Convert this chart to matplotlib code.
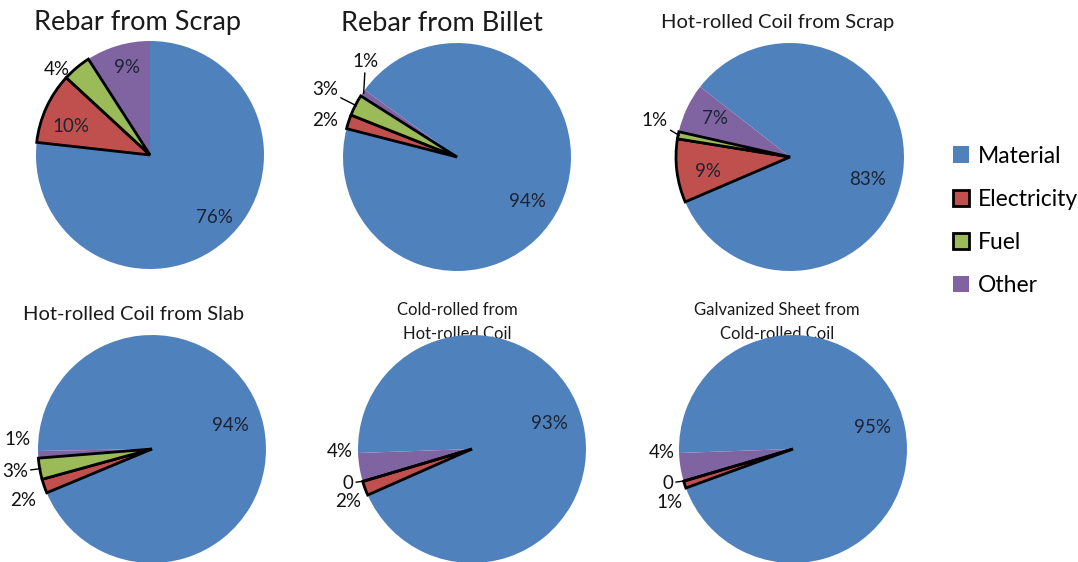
import matplotlib
matplotlib.use('Agg')
import matplotlib.pyplot as plt
import numpy as np

plt.rcParams['font.family'] = ['Lato', 'DejaVu Sans']

# ---------------- data ----------------
categories = ['Material', 'Electricity', 'Fuel', 'Other']
colors = ['#4F81BD', '#C0504D', '#9BBB59', '#8064A2']

titles = ['Rebar from Scrap', 'Rebar from Billet', 'Hot-rolled Coil from Scrap',
          'Hot-rolled Coil from Slab', 'Cold-rolled from\nHot-rolled Coil',
          'Galvanized Sheet from\nCold-rolled Coil']

rebar_scrap = [76, 10, 4, 9]
rebar_billet = [94, 2, 3, 1]
hrc_scrap = [83, 9, 1, 7]
hrc_slab = [94, 2, 3, 1]
cold_rolled = [93, 2, 0, 4]
galvanized = [95, 1, 0, 4]
series = [rebar_scrap, rebar_billet, hrc_scrap, hrc_slab, cold_rolled, galvanized]

# ---------------- layout / style ----------------
W, H, DPI = 1078, 562, 100
R = 114          # pie radius in pixels
L = 1.6          # half-extent of each axes in radius units
centers = [(150, 155), (457, 157), (790, 157), (152, 449), (472, 449), (793, 449)]
start_angles = [90, 144, 142, 181, 182, 182]
title_pos = [(-0.11, 1.16), (-0.13, 1.17), (-0.11, 1.18), (-0.16, 1.18), (-0.13, 1.115), (-0.14, 1.115)]
title_size = [19.5, 19.5, 14.5, 14.5, 12, 12]
# per-label (radial distance, angular nudge in degrees)
label_place = [
    [(0.79, 4), (0.74, 4.6), (1.11, 7.6), (0.79, -1.4)],
    [(0.73, -7), (1.2, 2.6), (1.3, 0), (1.16, -12)],
    [(0.71, -9), (0.73, 3), (1.23, -4), (0.74, -2)],
    [(0.72, 5), (1.22, 2.7), (1.22, -0.5), (1.18, -6.8)],
    [(0.72, 5.5), (1.18, 2.8), (1.13, -1.1), (1.16, -8.3)],
    [(0.72, 4.4), (1.18, 5.3), (1.14, -1.1), (1.15, -7.7)],
]
leaders = [[], [2, 3], [2], [2], [2], [2]]
outlined = [1, 2]   # Electricity, Fuel drawn with black outline

fig = plt.figure(figsize=(W / DPI, H / DPI), dpi=DPI)
fig.patch.set_facecolor('white')

legend_handles = None
for i, vals in enumerate(series):
    cx, cy = centers[i]
    size = 2 * L * R
    ax = fig.add_axes([(cx - L * R) / W, 1 - (cy + L * R) / H, size / W, size / H])
    ax.set_facecolor('none')
    wedges, _ = ax.pie(vals, colors=colors, startangle=start_angles[i], counterclock=False,
                       wedgeprops=dict(linewidth=0), radius=1)
    for k in outlined:
        wedges[k].set_edgecolor('black')
        wedges[k].set_linewidth(2.0)
        wedges[k].set_zorder(2)
    ax.set_xlim(-L, L)
    ax.set_ylim(-L, L)
    ax.set_aspect('equal')
    ax.axis('off')
    if legend_handles is None:
        legend_handles = wedges

    # labels
    for k, w in enumerate(wedges):
        mid = 0.5 * (w.theta1 + w.theta2)
        d, nudge = label_place[i][k]
        a = np.deg2rad(mid + nudge)
        pos = (d * np.cos(a), d * np.sin(a))
        txt = f'{vals[k]}%' if vals[k] else '0'
        inside = d < 1.0
        color = '#1d2433' if inside else '#111111'
        if k in leaders[i]:
            am = np.deg2rad(mid)
            ax.annotate(txt, xy=(0.99 * np.cos(am), 0.99 * np.sin(am)), xytext=pos,
                        ha='center', va='center', fontsize=13.5, color=color,
                        arrowprops=dict(arrowstyle='-', color='black', lw=1.0,
                                        shrinkA=0, shrinkB=0), zorder=4,
                        annotation_clip=False)
        else:
            ax.text(pos[0], pos[1], txt, ha='center', va='center', fontsize=13.5,
                    color=color, zorder=4, clip_on=False)

    tx, ty = title_pos[i]
    ax.text(tx, ty, titles[i], ha='center', va='center', fontsize=title_size[i],
            color='#1a1a1a', zorder=0.5, clip_on=False, linespacing=1.6)

fig.legend(legend_handles, categories, loc='center left', bbox_to_anchor=(0.884, 0.607),
           frameon=False, fontsize=16.5, handlelength=0.72, handleheight=0.72,
           handletextpad=0.35, labelspacing=0.97, borderpad=0, borderaxespad=0)

fig.savefig('out.png', dpi=DPI, facecolor='white')
